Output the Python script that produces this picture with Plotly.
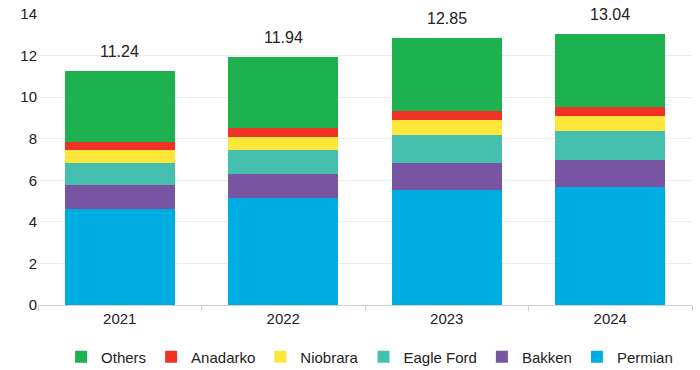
import plotly.graph_objects as go

years = ["2021", "2022", "2023", "2024"]
permian = [4.63, 5.15, 5.55, 5.69]
bakken = [1.16, 1.13, 1.26, 1.29]
eagle_ford = [1.06, 1.16, 1.38, 1.41]
niobrara = [0.61, 0.66, 0.69, 0.68]
anadarko = [0.36, 0.42, 0.47, 0.48]
others = [3.42, 3.42, 3.50, 3.49]
totals = [11.24, 11.94, 12.85, 13.04]

series = [
    ("Permian", permian, "#00ADE3"),
    ("Bakken", bakken, "#7755A3"),
    ("Eagle Ford", eagle_ford, "#45BFAE"),
    ("Niobrara", niobrara, "#FFE63A"),
    ("Anadarko", anadarko, "#EE3325"),
    ("Others", others, "#1DB14F"),
]

fig = go.Figure()
for name, vals, color in series:
    fig.add_trace(go.Bar(x=years, y=vals, name=name, marker_color=color,
                         marker_line_width=0))

for i, t in enumerate(totals):
    fig.add_annotation(x=i, y=t, text=f"{t:.2f}", showarrow=False,
                       yanchor="bottom", yshift=9,
                       font=dict(size=16, color="#222"))

fig.update_layout(
    barmode="stack",
    bargap=0.33,
    width=700, height=370,
    margin=dict(l=38, r=8, t=14, b=65, autoexpand=False),
    plot_bgcolor="white", paper_bgcolor="white",
    font=dict(family="Liberation Sans, Arial, sans-serif", size=15, color="#222"),
    legend=dict(orientation="h", traceorder="reversed",
                xref="container", x=0.528, xanchor="center",
                yref="container", y=0.035, yanchor="middle", font=dict(size=15),
                itemwidth=30),
    xaxis=dict(type="category", range=[-0.5, 3.5], showline=True, linecolor="#d0d0d0",
               ticks="outside", tickson="boundaries", tickcolor="#d0d0d0", ticklen=5,
               tickfont=dict(size=15), automargin=False),
    yaxis=dict(range=[0, 14], dtick=2, showgrid=True, gridcolor="#ececec",
               zeroline=False, tickfont=dict(size=15), automargin=False),
)

fig.write_html("out.html", config={"displayModeBar": False},
               post_script="document.body.style.margin='0';document.body.style.padding='0';")
